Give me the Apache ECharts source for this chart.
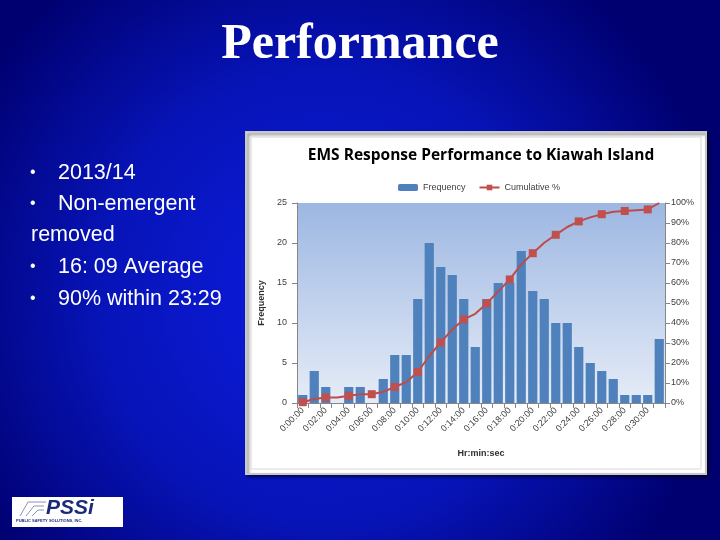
<!DOCTYPE html>
<html>
<head>
<meta charset="utf-8">
<script src="https://cdn.jsdelivr.net/npm/echarts@6/dist/echarts.min.js"></script>
<style>
  html, body { margin: 0; padding: 0; }
  #main { width: 720px; height: 540px; }
</style>
</head>
<body>
<div id="main"></div>
<script>
// data
var times = ['0:00:00','0:01:00','0:02:00','0:03:00','0:04:00','0:05:00','0:06:00','0:07:00',
             '0:08:00','0:09:00','0:10:00','0:11:00','0:12:00','0:13:00','0:14:00','0:15:00',
             '0:16:00','0:17:00','0:18:00','0:19:00','0:20:00','0:21:00','0:22:00','0:23:00',
             '0:24:00','0:25:00','0:26:00','0:27:00','0:28:00','0:29:00','0:30:00','0:31:00'];
var frequency = [1, 4, 2, 0, 2, 2, 0, 3, 6, 6, 13, 20, 17, 16, 13, 7,
                 13, 15, 15, 19, 14, 13, 10, 10, 7, 5, 4, 3, 1, 1, 1, 8];
var cumulative = [0.4, 2.0, 2.8, 2.8, 3.6, 4.4, 4.4, 5.6, 8.0, 10.4, 15.5, 23.5, 30.3, 36.7, 41.8, 44.6,
                  49.8, 55.8, 61.8, 69.3, 74.9, 80.1, 84.1, 88.0, 90.8, 92.8, 94.4, 95.6, 96.0, 96.4, 96.8, 100];
var bullets = ['2013/14', 'Non-emergent', 'removed', '16: 09 Average', '90% within 23:29'];

var myChart = echarts.init(document.getElementById('main'));

// slide text: bullets list
var bulletTexts = [];
var bulletY = [174, 205, 236, 268, 300];
bullets.forEach(function (b, i) {
    var noDot = (b === 'removed');
    if (!noDot) {
        bulletTexts.push({
            type: 'text', left: 30, top: bulletY[i] - 9, z: 5,
            style: { text: '•', fill: '#fff', fontSize: 16, fontFamily: 'Arial' }
        });
    }
    bulletTexts.push({
        type: 'text', left: noDot ? 31 : 58, top: bulletY[i] - 12, z: 5,
        style: { text: b, fill: '#fff', fontSize: 21.5, fontFamily: 'Arial' }
    });
});

var axisText = { color: '#404040', fontSize: 9, fontFamily: 'Arial' };

var option = {
    backgroundColor: {
        type: 'radial', x: 0.45, y: 0.55, r: 0.75,
        colorStops: [
            { offset: 0, color: '#0c1ce0' },
            { offset: 0.55, color: '#0714b8' },
            { offset: 1, color: '#000070' }
        ]
    },
    animation: false,
    title: {
        text: 'EMS Response Performance to Kiawah Island',
        left: 476, top: 143, textAlign: 'center',
        textStyle: { fontFamily: 'Open Sans', fontWeight: 'bold', fontSize: 15.5, color: '#000' }
    },
    legend: {
        top: 178, left: 393,
        itemGap: 13, itemWidth: 20, itemHeight: 7,
        textStyle: { fontSize: 9, color: '#404040', fontFamily: 'Arial' },
        data: [
            { name: 'Frequency', itemStyle: { color: '#4f81bd' } },
            { name: 'Cumulative %' }
        ]
    },
    graphic: [
        // slide title
        {
            type: 'text', left: 'center', top: 20, z: 5,
            style: {
                text: 'Performance', fill: '#fff',
                fontSize: 50, fontWeight: 'bold', fontFamily: 'Liberation Serif',
                shadowColor: 'rgba(0,0,0,0.6)', shadowOffsetX: 2, shadowOffsetY: 2, shadowBlur: 2
            }
        },
        // chart panel
        {
            type: 'rect', z: -10, silent: true,
            shape: { x: 246, y: 132, width: 460, height: 342 },
            style: { fill: '#fff', stroke: '#c8c8c8', lineWidth: 2,
                     shadowColor: 'rgba(0,0,0,0.5)', shadowOffsetX: 2, shadowOffsetY: 2, shadowBlur: 3 }
        },
        {
            type: 'rect', z: -9, silent: true,
            shape: { x: 251, y: 137, width: 450, height: 332 },
            style: { fill: 'none', stroke: '#d9d9d9', lineWidth: 1 }
        },
        // logo
        {
            type: 'rect', z: 5, silent: true,
            shape: { x: 12, y: 497, width: 111, height: 30 },
            style: { fill: '#fff' }
        },
        {
            type: 'text', left: 46, top: 498, z: 6,
            style: { text: 'PSSi', fill: '#1a2a7a', fontSize: 21, fontWeight: 'bold', fontStyle: 'italic', fontFamily: 'Arial' }
        },
        {
            type: 'text', left: 16, top: 519, z: 6,
            style: { text: 'PUBLIC SAFETY SOLUTIONS, INC.', fill: '#1a2a7a', fontSize: 4, fontWeight: 'bold', fontFamily: 'Arial' }
        },
        {
            type: 'polyline', z: 6, silent: true,
            shape: { points: [[20, 516], [28, 502], [46, 502]] },
            style: { stroke: '#8a94b8', lineWidth: 1, fill: 'none' }
        },
        {
            type: 'polyline', z: 6, silent: true,
            shape: { points: [[26, 516], [34, 506], [44, 506]] },
            style: { stroke: '#8a94b8', lineWidth: 1, fill: 'none' }
        },
        {
            type: 'polyline', z: 6, silent: true,
            shape: { points: [[32, 516], [38, 510], [44, 510]] },
            style: { stroke: '#8a94b8', lineWidth: 1, fill: 'none' }
        }
    ].concat(bulletTexts),
    grid: {
        left: 297, right: 55, top: 203, bottom: 137,
        show: true, borderWidth: 0,
        backgroundColor: {
            type: 'linear', x: 0, y: 0, x2: 0, y2: 1,
            colorStops: [
                { offset: 0, color: '#9db7e2' },
                { offset: 1, color: '#e6ecf7' }
            ]
        }
    },
    xAxis: {
        type: 'category',
        data: times,
        name: 'Hr:min:sec',
        nameLocation: 'middle',
        nameGap: 46,
        nameTextStyle: { fontSize: 9, fontWeight: 'bold', color: '#303030', fontFamily: 'Arial' },
        axisLine: { lineStyle: { color: '#868686' } },
        axisTick: { show: true, interval: 0, lineStyle: { color: '#868686' } },
        axisLabel: Object.assign({ rotate: 45, interval: 1, margin: 6 }, axisText)
    },
    yAxis: [
        {
            type: 'value', min: 0, max: 25, interval: 5,
            name: 'Frequency', nameLocation: 'middle', nameGap: 20, nameRotate: 90,
            nameTextStyle: { fontSize: 9, fontWeight: 'bold', color: '#303030', fontFamily: 'Arial' },
            axisLine: { show: true, lineStyle: { color: '#868686' } },
            axisTick: { show: true, lineStyle: { color: '#868686' } },
            splitLine: { show: false },
            axisLabel: Object.assign({ margin: 10 }, axisText)
        },
        {
            type: 'value', min: 0, max: 100, interval: 10,
            axisLine: { show: true, lineStyle: { color: '#868686' } },
            axisTick: { show: true, lineStyle: { color: '#868686' } },
            splitLine: { show: false },
            axisLabel: Object.assign({ margin: 6, formatter: '{value}%' }, axisText)
        }
    ],
    series: [
        {
            name: 'Frequency',
            type: 'bar',
            data: frequency,
            barCategoryGap: '20%',
            itemStyle: { color: '#4f81bd' }
        },
        {
            name: 'Cumulative %',
            type: 'line',
            yAxisIndex: 1,
            data: cumulative,
            symbol: 'rect',
            symbolSize: 8,
            lineStyle: { color: '#be4b48', width: 2 },
            itemStyle: { color: '#c0504d' }
        }
    ]
};

myChart.setOption(option);
</script>
</body>
</html>
